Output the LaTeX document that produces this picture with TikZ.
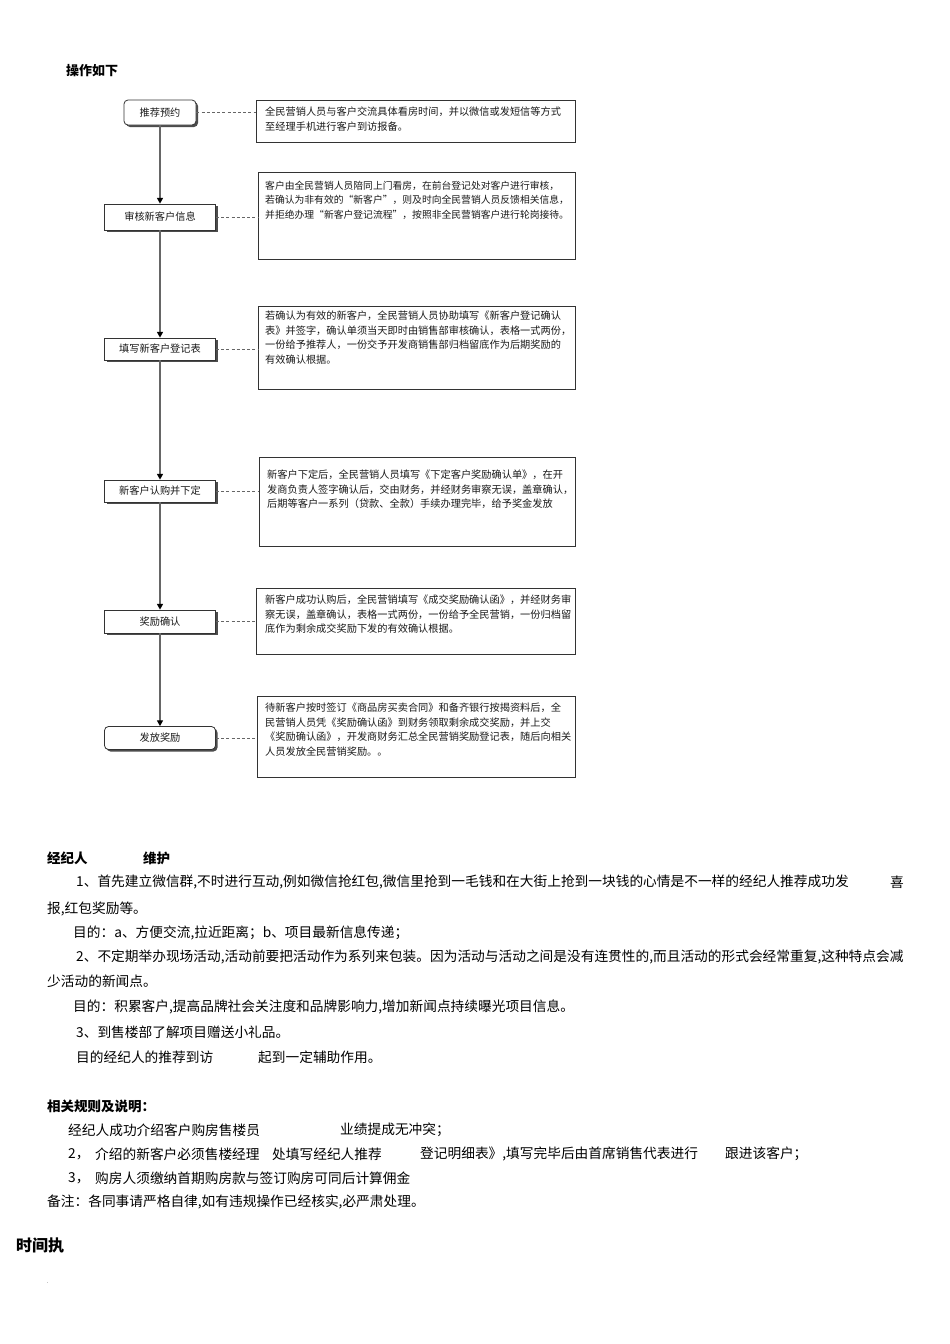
\documentclass[tikz,border=0pt]{standalone}
\usepackage{fontspec}
\setmainfont{Noto Sans CJK SC}
\usepackage{tikz}
\usetikzlibrary{arrows.meta,positioning,shadows}
\definecolor{ink}{HTML}{1A1A1A}
\definecolor{edge}{HTML}{333333}
\definecolor{wire}{HTML}{666666}
\tikzset{
  >={Triangle[length=2mm,width=2.1mm,color=black]},
  stepbox/.style={draw=edge,line width=0.8pt,fill=white,minimum width=111pt,minimum height=22pt,inner sep=1pt,font=\fontsize{10.2}{12}\selectfont,text=ink,drop shadow={shadow xshift=2pt,shadow yshift=-2pt,opacity=1,fill=black!70}},
  endbox/.style={stepbox,rounded corners=4pt},
  note/.style={draw=edge,line width=0.8pt,fill=white,anchor=north west,inner sep=0pt,drop shadow={shadow xshift=1pt,shadow yshift=-1pt,opacity=1,fill=black!55}},
  notetxt/.style={inner sep=0pt,align=left,font=\fontsize{10.2}{14.8}\selectfont,text=ink},
  flow/.style={->,draw=wire,line width=1.1pt},
  link/.style={draw=wire,line width=0.7pt,dash pattern=on 3pt off 2.2pt},
  para/.style={anchor=west,inner sep=0pt,font=\fontsize{13.7}{16}\selectfont,text=black},
  head/.style={para,font=\fontsize{13.5}{16}\selectfont\bfseries},
}
\begin{document}
\begin{tikzpicture}[x=1pt,y=-1pt]
\fill[white] (0,0) rectangle (950,1344);
\useasboundingbox (0,0) rectangle (950,1344);

\node[head,font=\fontsize{13}{16}\selectfont\bfseries] (title) at (66,71) {操作如下};

% flow steps
\node[endbox,minimum width=72pt,minimum height=25pt] (s1) at (160,112.5) {推荐预约};
\node[stepbox,minimum height=26pt] (s2) at (160,217) {审核新客户信息};
\node[stepbox] (s3) at (160,349) {填写新客户登记表};
\node[stepbox] (s4) at (160,491) {新客户认购并下定};
\node[stepbox,minimum height=23pt] (s5) at (160,621.5) {奖励确认};
\node[endbox,minimum height=23pt] (s6) at (160,738) {发放奖励};

% notes
\node[note,minimum width=319pt,minimum height=42pt] (n1) at (256,100) {};
\node[note,minimum width=317pt,minimum height=87pt] (n2) at (258,172) {};
\node[note,minimum width=317pt,minimum height=83pt] (n3) at (258,306) {};
\node[note,minimum width=316pt,minimum height=89pt] (n4) at (259,457) {};
\node[note,minimum width=319pt,minimum height=66pt] (n5) at (256,588) {};
\node[note,minimum width=318pt,minimum height=81pt] (n6) at (257,696) {};

\node[notetxt,below right=6.4pt and 9pt of n1.north west] (t1) {全民营销人员与客户交流具体看房时间，并以微信或发短信等方式\\至经理手机进行客户到访报备。};
\node[notetxt,font=\fontsize{9.8}{14.6}\selectfont,below right=8.6pt and 7pt of n2.north west] (t2) {客户由全民营销人员陪同上门看房，在前台登记处对客户进行审核，\\若确认为非有效的“新客户”，则及时向全民营销人员反馈相关信息，\\并拒绝办理“新客户登记流程”，按照非全民营销客户进行轮岗接待。};
\node[notetxt,below right=4.4pt and 7pt of n3.north west] (t3) {若确认为有效的新客户，全民营销人员协助填写《新客户登记确认\\表》并签字，确认单须当天即时由销售部审核确认，表格一式两份，\\一份给予推荐人，一份交予开发商销售部归档留底作为后期奖励的\\有效确认根据。};
\node[notetxt,below right=12.4pt and 8pt of n4.north west] (t4) {新客户下定后，全民营销人员填写《下定客户奖励确认单》，在开\\发商负责人签字确认后，交由财务，并经财务审察无误，盖章确认，\\后期等客户一系列（贷款、全款）手续办理完毕，给予奖金发放};
\node[notetxt,below right=6.4pt and 9pt of n5.north west] (t5) {新客户成功认购后，全民营销填写《成交奖励确认函》，并经财务审\\察无误，盖章确认，表格一式两份，一份给予全民营销，一份归档留\\底作为剩余成交奖励下发的有效确认根据。};
\node[notetxt,below right=6.4pt and 8pt of n6.north west] (t6) {待新客户按时签订《商品房买卖合同》和备齐银行按揭资料后，全\\民营销人员凭《奖励确认函》到财务领取剩余成交奖励，并上交\\《奖励确认函》，开发商财务汇总全民营销奖励登记表，随后向相关\\人员发放全民营销奖励。。};

\draw[flow] (s1) -- (s2);
\draw[flow] (s2) -- (s3);
\draw[flow] (s3) -- (s4);
\draw[flow] (s4) -- (s5);
\draw[flow] (s5) -- (s6);
\foreach \i in {1,...,6}
  \draw[link] (s\i.east) -- (s\i.east -| n\i.west);

% text below
\node[head] (h1) at (47,858) {经纪人};
\node[head] (h1b) at (143,858) {维护};
\node[para] (p1a) at (76,882) {1、首先建立微信群,不时进行互动,例如微信抢红包,微信里抢到一毛钱和在大街上抢到一块钱的心情是不一样的经纪人推荐成功发};
\node[para] (p1x) at (890,882) {喜};
\node[para] (p1b) at (47,909) {报,红包奖励等。};
\node[para] (p1c) at (73,933) {目的：a、方便交流,拉近距离；b、项目最新信息传递；};
\node[para] (p2a) at (76,957) {2、不定期举办现场活动,活动前要把活动作为系列来包装。因为活动与活动之间是没有连贯性的,而且活动的形式会经常重复,这种特点会减};
\node[para] (p2b) at (47,981) {少活动的新闻点。};
\node[para] (p2c) at (73,1007) {目的：积累客户,提高品牌社会关注度和品牌影响力,增加新闻点持续曝光项目信息。};
\node[para] (p3a) at (76,1032) {3、到售楼部了解项目赠送小礼品。};
\node[para] (p3b) at (76,1057) {目的经纪人的推荐到访};
\node[para] (p3c) at (258,1057) {起到一定辅助作用。};

\node[head] (h2) at (47,1106) {相关规则及说明：};
\node[para] (r1a) at (68,1130) {经纪人成功介绍客户购房售楼员};
\node[para] (r1b) at (340,1130) {业绩提成无冲突；};
\node[para] (r2a) at (68,1154) {2，};
\node[para] (r2b) at (95,1154) {介绍的新客户必须售楼经理};
\node[para] (r2c) at (272,1154) {处填写经纪人推荐};
\node[para] (r2d) at (420,1154) {登记明细表》,填写完毕后由首席销售代表进行};
\node[para] (r2e) at (725,1154) {跟进该客户；};
\node[para] (r3a) at (68,1178) {3，};
\node[para] (r3b) at (95,1178) {购房人须缴纳首期购房款与签订购房可同后计算佣金};
\node[para] (note) at (47,1202) {备注：各同事请严格自律,如有违规操作已经核实,必严肃处理。};

\node[head,font=\fontsize{16}{18}\selectfont\bfseries] (h3) at (16,1245) {时间执};
\node[para,font=\tiny] (dot) at (47,1283) {.};
\end{tikzpicture}
\end{document}
